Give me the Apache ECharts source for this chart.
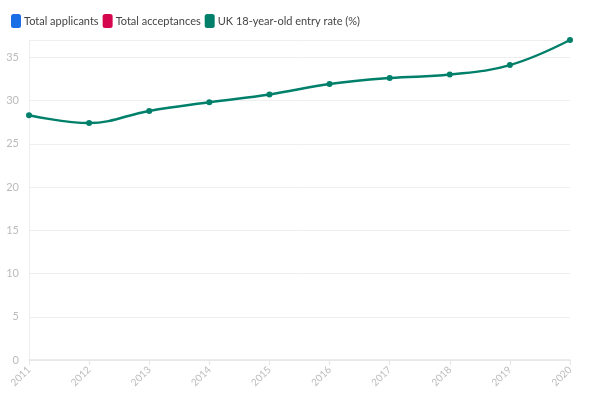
<!DOCTYPE html>
<html>
<head>
<meta charset="utf-8">
<script src="https://cdn.jsdelivr.net/npm/echarts@6/dist/echarts.min.js"></script>
<style>
html, body { margin: 0; padding: 0; background: #fff; }
#main { width: 602px; height: 399px; }
</style>
</head>
<body>
<div id="main"></div>
<script>
var years = ['2011', '2012', '2013', '2014', '2015', '2016', '2017', '2018', '2019', '2020'];
var totalApplicants = [];
var totalAcceptances = [];
var entryRate = [28.3, 27.4, 28.8, 29.8, 30.7, 31.9, 32.6, 33.0, 34.1, 37.0];

var myChart = echarts.init(document.getElementById('main'));

var option = {
    animation: false,
    textStyle: { fontFamily: 'Lato, sans-serif' },
    color: ['#1a6fe6', '#d5064e', '#00806a'],
    legend: {
        left: 6,
        top: 9,
        icon: 'roundRect',
        itemWidth: 10,
        itemHeight: 14,
        itemGap: 4,
        textStyle: { color: '#444', fontSize: 11, padding: [0, 0, 0, -2] },
        data: ['Total applicants', 'Total acceptances', 'UK 18-year-old entry rate (%)']
    },
    grid: {
        left: 29,
        right: 32,
        top: 40,
        bottom: 39
    },
    xAxis: {
        type: 'category',
        data: years,
        boundaryGap: false,
        axisLine: { lineStyle: { color: '#e6e6e6', width: 1.5 } },
        axisTick: { show: true, lineStyle: { color: '#e6e6e6' } },
        axisLabel: { color: '#bbb', fontSize: 10, rotate: 45, margin: 8 }
    },
    yAxis: {
        type: 'value',
        min: 0,
        max: 'dataMax',
        interval: 5,
        axisLine: { show: true, lineStyle: { color: '#eee' } },
        axisTick: { show: false },
        axisLabel: { color: '#bbb', fontSize: 11, margin: 10, showMaxLabel: false },
        splitLine: { lineStyle: { color: '#eee' } }
    },
    series: [
        { name: 'Total applicants', type: 'line', data: totalApplicants },
        { name: 'Total acceptances', type: 'line', data: totalAcceptances },
        {
            name: 'UK 18-year-old entry rate (%)',
            type: 'line',
            smooth: 0.4,
            symbol: 'circle',
            symbolSize: 6,
            lineStyle: { width: 2.5 },
            data: entryRate
        }
    ]
};

myChart.setOption(option);
</script>
</body>
</html>
